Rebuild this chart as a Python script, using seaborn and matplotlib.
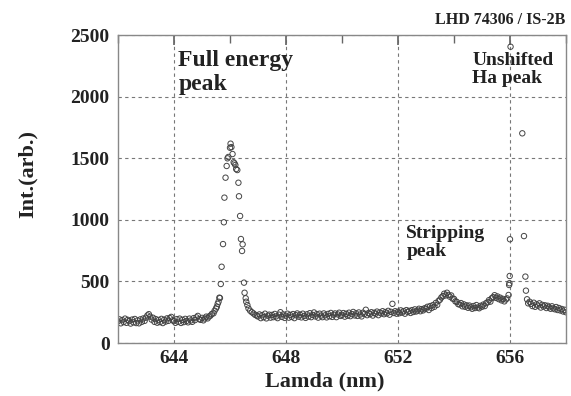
import numpy as np
import pandas as pd
import matplotlib
matplotlib.use("Agg")
import matplotlib.pyplot as plt
import seaborn as sns
from matplotlib.ticker import MultipleLocator

# baseline left of the full energy peak
lam_left = [
    642.00, 642.05, 642.10, 642.15, 642.20, 642.25, 642.30, 642.35, 642.40, 642.45,
    642.50, 642.55, 642.60, 642.65, 642.70, 642.75, 642.80, 642.85, 642.90, 642.95,
    643.00, 643.05, 643.10, 643.15, 643.20, 643.25, 643.30, 643.35, 643.40, 643.45,
    643.50, 643.55, 643.60, 643.65, 643.70, 643.75, 643.80, 643.85, 643.90, 643.95,
    644.00, 644.05, 644.10, 644.15, 644.20, 644.25, 644.30, 644.35, 644.40, 644.45,
    644.50, 644.55, 644.60, 644.65, 644.70, 644.75, 644.80, 644.85, 644.90, 644.95,
    645.00, 645.05, 645.10, 645.15,
]
int_left = [
    176, 192, 160, 186, 170, 198, 164, 188, 178, 158,
    190, 168, 195, 162, 183, 160, 192, 172, 199, 180,
    206, 224, 234, 214, 190, 205, 172, 194, 165, 187,
    170, 196, 162, 189, 174, 200, 180, 202, 212, 184,
    178, 164, 194, 172, 198, 163, 188, 170, 196, 179,
    168, 198, 183, 172, 202, 186, 208, 220, 194, 188,
    204, 184, 199, 214,
]

# full energy peak
lam_full = [
    645.20, 645.25, 645.30, 645.35, 645.41, 645.45, 645.50, 645.53, 645.56, 645.59,
    645.62, 645.64, 645.67, 645.70, 645.75, 645.78, 645.80, 645.84, 645.88, 645.91,
    645.94, 646.00, 646.02, 646.05, 646.09, 646.13, 646.16, 646.19, 646.22, 646.26,
    646.30, 646.32, 646.36, 646.39, 646.43, 646.45, 646.50, 646.52, 646.56, 646.58,
    646.62, 646.66, 646.72, 646.78, 646.84, 646.90, 646.96,
]
int_full = [
    200, 215, 222, 236, 241, 262, 280, 295, 318, 335,
    368, 365, 479, 619, 803, 980, 1180, 1342, 1437, 1499,
    1510, 1585, 1618, 1590, 1534, 1467, 1458, 1445, 1412, 1404,
    1301, 1191, 1031, 844, 747, 801, 490, 408, 363, 335,
    308, 281, 262, 250, 240, 228, 222,
]

# middle baseline
lam_mid = [
    647.00, 647.05, 647.10, 647.15, 647.20, 647.25, 647.30, 647.35, 647.40, 647.45,
    647.50, 647.55, 647.60, 647.65, 647.70, 647.75, 647.80, 647.85, 647.90, 647.95,
    648.00, 648.05, 648.10, 648.15, 648.20, 648.25, 648.30, 648.35, 648.40, 648.45,
    648.50, 648.55, 648.60, 648.65, 648.70, 648.75, 648.80, 648.85, 648.90, 648.95,
    649.00, 649.05, 649.10, 649.15, 649.20, 649.25, 649.30, 649.35, 649.40, 649.45,
    649.50, 649.55, 649.60, 649.65, 649.70, 649.75, 649.80, 649.85, 649.90, 649.95,
    650.00, 650.05, 650.10, 650.15, 650.20, 650.25, 650.30, 650.35, 650.40, 650.45,
    650.50, 650.55, 650.60, 650.65, 650.70, 650.75, 650.80, 650.85, 650.90, 650.95,
    651.00, 651.05, 651.10, 651.15, 651.20, 651.25, 651.30, 651.35, 651.40, 651.45,
    651.50, 651.55, 651.60, 651.65, 651.70, 651.75, 651.80, 651.85, 651.90, 651.95,
    652.00, 652.05, 652.10, 652.15, 652.20, 652.25, 652.30, 652.35, 652.40, 652.45,
    652.50, 652.55, 652.60, 652.65, 652.70, 652.75, 652.80, 652.85, 652.90, 652.95,
]
int_mid = [
    215, 232, 202, 226, 210, 238, 200, 222, 230, 206,
    228, 210, 236, 216, 202, 230, 250, 212, 232, 204,
    222, 238, 206, 228, 212, 235, 202, 226, 240, 214,
    230, 208, 238, 220, 204, 233, 215, 242, 210, 228,
    248, 216, 234, 206, 238, 222, 210, 240, 225, 208,
    236, 217, 244, 212, 230, 240, 210, 232, 246, 220,
    228, 243, 214, 237, 222, 246, 218, 235, 252, 224,
    241, 220, 248, 231, 216, 246, 236, 270, 226, 244,
    234, 250, 223, 245, 237, 255, 226, 248, 240, 258,
    234, 251, 240, 261, 230, 253, 318, 244, 258, 238,
    254, 242, 265, 247, 259, 238, 267, 252, 261, 244,
    267, 252, 273, 256, 264, 278, 258, 275, 265, 282,
]

# stripping peak region
lam_strip = [
    653.00, 653.05, 653.10, 653.15, 653.20, 653.25, 653.30, 653.35, 653.40, 653.45,
    653.50, 653.55, 653.60, 653.65, 653.70, 653.75, 653.80, 653.85, 653.90, 653.95,
    654.00, 654.05, 654.10, 654.15, 654.20, 654.25, 654.30, 654.35, 654.40, 654.45,
    654.50, 654.55, 654.60, 654.65, 654.70, 654.75, 654.80, 654.85, 654.90, 654.95,
    655.00, 655.05, 655.10, 655.15, 655.20, 655.25, 655.30, 655.35, 655.40, 655.45,
    655.50, 655.55, 655.60, 655.65, 655.70, 655.75, 655.80, 655.85, 655.90, 655.95,
]
int_strip = [
    278, 294, 268, 300, 284, 308, 294, 325, 310, 342,
    352, 370, 380, 400, 386, 408, 390, 376, 386, 360,
    358, 338, 334, 316, 312, 324, 298, 314, 294, 306,
    286, 304, 290, 278, 300, 284, 308, 288, 282, 302,
    294, 312, 300, 324, 330, 348, 336, 364, 372, 388,
    366, 378, 356, 368, 346, 358, 338, 354, 362, 390,
]

# unshifted H-alpha peak
lam_ha = [655.97, 655.98, 655.99, 656.00, 656.02,
          656.44, 656.50, 656.55, 656.57, 656.61, 656.65, 656.70]
int_ha = [471, 485, 544, 842, 2405,
          1702, 868, 539, 425, 355, 322, 335]

# right baseline
lam_right = [
    656.75, 656.80, 656.85, 656.90, 656.95, 657.00, 657.05, 657.10, 657.15, 657.20,
    657.25, 657.30, 657.35, 657.40, 657.45, 657.50, 657.55, 657.60, 657.65, 657.70,
    657.75, 657.80, 657.85, 657.90, 657.95, 658.00,
]
int_right = [
    318, 300, 327, 294, 314, 303, 322, 288, 310, 296,
    306, 284, 302, 290, 278, 298, 282, 274, 292, 268,
    284, 264, 276, 256, 270, 250,
]

df = pd.DataFrame({
    "lam": lam_left + lam_full + lam_mid + lam_strip + lam_ha + lam_right,
    "int": int_left + int_full + int_mid + int_strip + int_ha + int_right,
})

sns.set_theme(style="white")
plt.rcParams["font.family"] = ["Liberation Serif", "DejaVu Serif"]
plt.rcParams["font.weight"] = "bold"
ink = "#222222"

fig = plt.figure(figsize=(5.71, 3.96), dpi=100)
ax = fig.add_axes([0.2067, 0.1338, 0.7845, 0.7778])

sns.scatterplot(
    data=df, x="lam", y="int", ax=ax, marker="o", s=15,
    facecolor="none", edgecolor="#444444", linewidth=0.7, legend=False,
)

ax.set_xlim(642, 658)
ax.set_ylim(0, 2500)
ax.xaxis.set_minor_locator(MultipleLocator(2))
ax.yaxis.set_major_locator(MultipleLocator(500))
ax.set_xticks([644, 648, 652, 656])
ax.grid(True, which="major", linestyle=(0, (3, 3)), color="#777777", linewidth=0.8)

ax.tick_params(axis="both", which="both", direction="in", top=True,
               colors="#666666", labelcolor=ink, labelsize=14)
ax.tick_params(axis="x", which="major", length=7, pad=5)
ax.tick_params(axis="x", which="minor", length=6)
ax.tick_params(axis="y", which="major", length=5, pad=6)
for lab in ax.get_xticklabels() + ax.get_yticklabels():
    lab.set_fontweight("bold")
for sp in ax.spines.values():
    sp.set_color("#888888")
    sp.set_linewidth(1.0)

ax.set_xlabel("Lamda (nm)", fontsize=16, fontweight="bold", color=ink)
ax.set_ylabel("Int.(arb.)", fontsize=16, fontweight="bold", color=ink)
ax.xaxis.set_label_coords(0.462, -0.092)
ax.yaxis.set_label_coords(-0.18, 0.55)

ax.text(644.15, 2375, "Full energy\npeak", fontsize=17, fontweight="bold",
        color=ink, va="top", ha="left", linespacing=1.15)
ax.text(652.3, 960, "Stripping\npeak", fontsize=14, fontweight="bold",
        color=ink, va="top", ha="left", linespacing=1.1)
ax.text(654.65, 2360, "Unshifted\nHa peak", fontsize=14, fontweight="bold",
        color=ink, va="top", ha="left", linespacing=1.05)
fig.text(0.991, 0.939, "LHD 74306 / IS-2B", fontsize=11.5, fontweight="bold",
         color=ink, ha="right", va="baseline")

fig.savefig("out.png", dpi=100)
